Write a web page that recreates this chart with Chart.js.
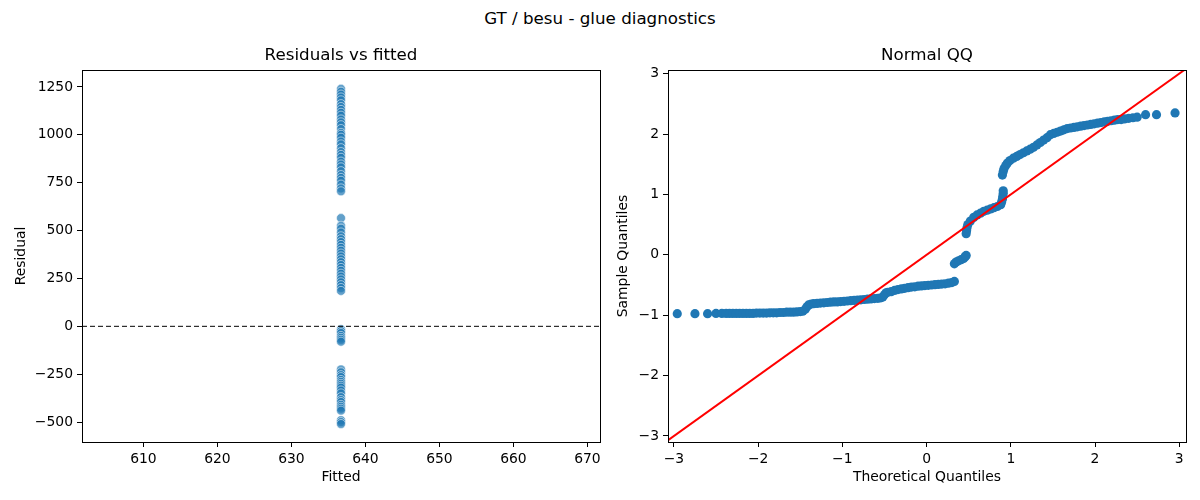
<!DOCTYPE html>
<html>
<head>
<meta charset="utf-8">
<script src="https://cdn.jsdelivr.net/npm/chart.js@4.4.0/dist/chart.umd.min.js"></script>
<style>
  body { margin: 0; background: #fff; }
  #wrap { position: relative; width: 1200px; height: 500px; font-family: "DejaVu Sans", sans-serif; }
  #suptitle { position: absolute; left: 0; top: 8px; width: 1200px; text-align: center; font-size: 16.7px; color: #000; }
  #left { position: absolute; left: 0; top: 0; }
  #right { position: absolute; left: 610px; top: 0; }
</style>
</head>
<body>
<div id="wrap">
  <div id="suptitle">GT / besu - glue diagnostics</div>
  <canvas id="left" width="610" height="500"></canvas>
  <canvas id="right" width="590" height="500"></canvas>
</div>
<script>
// residuos vs ajustado (todos no mesmo valor ajustado)
const fittedValue = 636.7;
const residuals = [
  1240, 1225, 1210, 1195, 1180, 1160, 1145, 1130, 1115, 1100, 1080, 1065, 1050, 1030, 1010, 1000,
  985, 965, 950, 930, 910, 895, 880, 860, 845, 830, 810, 790, 775, 760, 740, 720, 705,
  565, 525, 510, 490, 470, 455, 440, 425, 410, 395, 380, 365, 350, 335, 320, 305, 290,
  275, 260, 245, 230, 215, 200, 185,
  -15, -25, -35, -50, -60, -70, -80,
  -225, -240, -255, -265, -280, -290, -300, -310, -320, -335, -350, -370, -385, -395,
  -410, -420, -430, -440, -490, -500, -510
];
const zeroLineX = [601.7, 671.7];
const fittedTicks = [610, 620, 630, 640, 650, 660, 670];
const residualTicks = [-500, -250, 0, 250, 500, 750, 1000, 1250];

// QQ normal
const qqTheoretical = [
  -2.96, -2.75, -2.60, -2.50, -2.43,
  -2.38, -2.34, -2.30, -2.26, -2.22, -2.18, -2.14, -2.10, -2.06, -2.02, -1.98, -1.94, -1.90,
  -1.86, -1.82, -1.78, -1.74, -1.70, -1.66, -1.62, -1.58, -1.54, -1.50, -1.47,
  -1.44, -1.42, -1.40, -1.37,
  -1.34, -1.30, -1.26, -1.22, -1.18, -1.14, -1.10, -1.06, -1.02, -0.98, -0.94, -0.90, -0.86,
  -0.82, -0.78, -0.74, -0.70, -0.66, -0.62, -0.58, -0.55,
  -0.52, -0.50, -0.48,
  -0.46, -0.42, -0.38, -0.34, -0.30, -0.26, -0.22, -0.18, -0.14, -0.10, -0.06, -0.02, 0.02,
  0.06, 0.10, 0.14, 0.18, 0.22, 0.26, 0.30, 0.33,
  0.33, 0.35, 0.38, 0.41, 0.44, 0.46, 0.47,
  0.47, 0.475, 0.48, 0.49, 0.52, 0.56, 0.60, 0.64, 0.68, 0.72, 0.76, 0.80, 0.84, 0.88,
  0.89, 0.90, 0.905, 0.91, 0.91,
  0.90, 0.91, 0.92, 0.94, 0.96, 0.99, 1.03, 1.07, 1.11, 1.15, 1.19, 1.23, 1.27, 1.31, 1.35,
  1.39, 1.43, 1.47, 1.51, 1.55, 1.59, 1.63, 1.67, 1.71, 1.75, 1.79, 1.83, 1.87, 1.91, 1.95,
  1.99, 2.03, 2.07, 2.11, 2.15, 2.19, 2.23, 2.27, 2.31, 2.35, 2.40, 2.45, 2.50,
  2.60, 2.73, 2.95
];
const qqSample = [
  -0.975, -0.975, -0.975, -0.97, -0.97,
  -0.97, -0.97, -0.97, -0.97, -0.97, -0.97, -0.97, -0.97, -0.97, -0.965, -0.965, -0.965, -0.965,
  -0.96, -0.96, -0.96, -0.955, -0.955, -0.95, -0.95, -0.95, -0.945, -0.94, -0.935,
  -0.90, -0.86, -0.83, -0.815,
  -0.81, -0.805, -0.80, -0.795, -0.79, -0.785, -0.78, -0.78, -0.775, -0.77, -0.765, -0.76, -0.755,
  -0.75, -0.745, -0.74, -0.735, -0.73, -0.725, -0.72, -0.715,
  -0.70, -0.66, -0.63,
  -0.62, -0.61, -0.59, -0.575, -0.565, -0.555, -0.545, -0.535, -0.53, -0.52, -0.515, -0.51, -0.505,
  -0.50, -0.495, -0.49, -0.485, -0.48, -0.47, -0.46, -0.44,
  -0.15, -0.12, -0.10, -0.08, -0.06, -0.03, -0.01,
  0.35, 0.40, 0.45, 0.50, 0.56, 0.62, 0.66, 0.69, 0.72, 0.74, 0.76, 0.78, 0.80, 0.83,
  0.87, 0.92, 0.97, 1.02, 1.06,
  1.32, 1.38, 1.43, 1.48, 1.52, 1.56, 1.60, 1.63, 1.66, 1.69, 1.72, 1.75, 1.78, 1.82, 1.86,
  1.90, 1.94, 1.99, 2.01, 2.03, 2.05, 2.07, 2.09, 2.10, 2.11, 2.12, 2.13, 2.14, 2.15, 2.16,
  2.17, 2.18, 2.19, 2.20, 2.21, 2.22, 2.23, 2.24, 2.24, 2.25, 2.26, 2.27, 2.28,
  2.32, 2.32, 2.35
];
const refLine = [-3.3, 3.3];
const qqTicks = [-3, -2, -1, 0, 1, 2, 3];

const FONT = "'DejaVu Sans', sans-serif";
const minus = v => String(v).replace('-', '\u2212');

// moldura preta em volta da area do grafico
const framePlugin = {
  id: 'frame',
  afterDatasetsDraw(chart) {
    const a = chart.chartArea, ctx = chart.ctx;
    ctx.save();
    ctx.strokeStyle = '#000';
    ctx.lineWidth = 1;
    ctx.strokeRect(Math.round(a.left) + 0.5, Math.round(a.top) + 0.5,
      Math.round(a.right - a.left), Math.round(a.bottom - a.top));
    ctx.restore();
  }
};

function axis(opts) {
  const ticksList = opts.ticksList;
  return {
    type: 'linear',
    position: opts.position,
    min: opts.min,
    max: opts.max,
    afterBuildTicks: s => { s.ticks = ticksList.map(v => ({ value: v })); },
    afterFit: s => {
      if (opts.position === 'left') s.width = opts.size; else s.height = opts.size;
    },
    grid: { drawOnChartArea: false, drawTicks: true, tickLength: 5, color: '#000', lineWidth: 1 },
    border: { display: false },
    ticks: {
      color: '#000',
      padding: 4,
      maxRotation: 0,
      font: { family: FONT, size: 13.9 },
      callback: v => minus(v)
    },
    title: {
      display: true,
      text: opts.title,
      color: '#000',
      font: { family: FONT, size: 13.9 },
      padding: opts.titlePad
    }
  };
}

function titleOpts(text) {
  return {
    display: true,
    text: text,
    fullSize: false,
    color: '#000',
    font: { family: FONT, size: 16.7, weight: 'normal' },
    padding: { top: 2, bottom: 4 }
  };
}

new Chart(document.getElementById('left'), {
  type: 'scatter',
  data: {
    datasets: [
      {
        type: 'line',
        data: zeroLineX.map(x => ({ x: x, y: 0 })),
        borderColor: '#000',
        borderWidth: 1,
        borderDash: [5, 3],
        pointRadius: 0,
        order: 0
      },
      {
        data: residuals.map(r => ({ x: fittedValue, y: r })),
        backgroundColor: 'rgba(31,119,180,0.7)',
        borderColor: 'rgba(255,255,255,0.7)',
        borderWidth: 0.75,
        pointRadius: 4.5,
        order: 1
      }
    ]
  },
  options: {
    responsive: false,
    animation: false,
    layout: { padding: { top: 44, right: 10, left: 0, bottom: 0 } },
    plugins: { legend: { display: false }, tooltip: { enabled: false }, title: titleOpts('Residuals vs fitted') },
    scales: {
      x: axis({ position: 'bottom', min: 601.7, max: 671.7, ticksList: fittedTicks, size: 58,
        title: 'Fitted', titlePad: { top: 0, bottom: 14.5 } }),
      y: axis({ position: 'left', min: -604, max: 1338, ticksList: residualTicks, size: 82,
        title: 'Residual', titlePad: { top: 13.5, bottom: 0 } })
    }
  },
  plugins: [framePlugin]
});

new Chart(document.getElementById('right'), {
  type: 'scatter',
  data: {
    datasets: [
      {
        type: 'line',
        data: refLine.map(v => ({ x: v, y: v })),
        borderColor: '#ff0000',
        borderWidth: 2,
        pointRadius: 0,
        order: 0
      },
      {
        data: qqTheoretical.map((t, i) => ({ x: t, y: qqSample[i] })),
        backgroundColor: '#1f77b4',
        borderColor: '#1f77b4',
        borderWidth: 0,
        pointRadius: 4.6,
        order: 1
      }
    ]
  },
  options: {
    responsive: false,
    animation: false,
    layout: { padding: { top: 44, right: 14, left: 0, bottom: 0 } },
    plugins: { legend: { display: false }, tooltip: { enabled: false }, title: titleOpts('Normal QQ') },
    scales: {
      x: axis({ position: 'bottom', min: -3.07, max: 3.08, ticksList: qqTicks, size: 58,
        title: 'Theoretical Quantiles', titlePad: { top: 0, bottom: 14.5 } }),
      y: axis({ position: 'left', min: -3.1, max: 3.06, ticksList: qqTicks, size: 58,
        title: 'Sample Quantiles', titlePad: { top: 5.5, bottom: 0 } })
    }
  },
  plugins: [framePlugin]
});
</script>
</body>
</html>
